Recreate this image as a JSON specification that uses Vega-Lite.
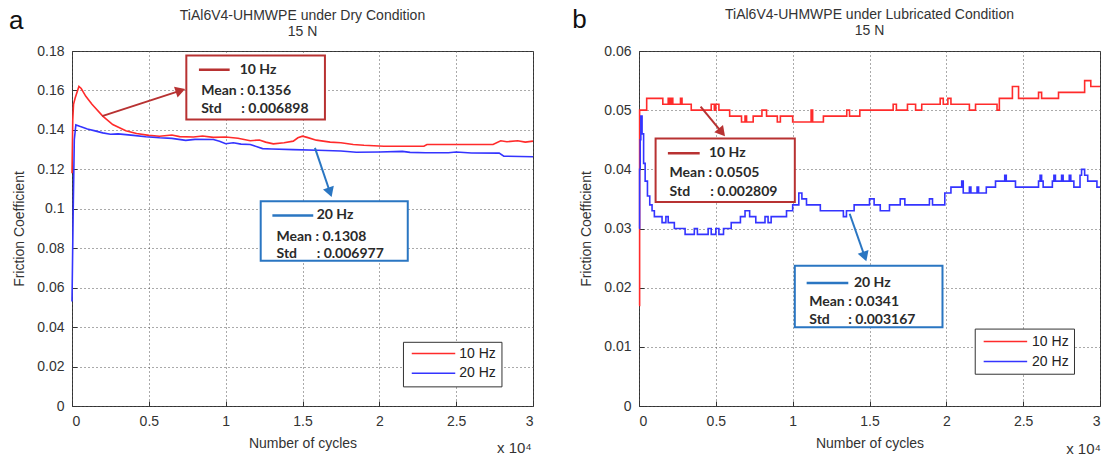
{
  "$schema": "https://vega.github.io/schema/vega-lite/v6.json",
  "background": "white",
  "padding": {"top": 6, "left": 8, "right": 4, "bottom": 6},
  "spacing": 34,
  "config": {
    "font": "Liberation Sans",
    "view": {"stroke": "#333", "strokeWidth": 1},
    "axis": {
      "domain": false, "grid": true, "gridColor": "#555", "gridDash": [1, 3], "gridWidth": 1,
      "tickColor": "#333", "tickSize": -5, "labelPadding": 13,
      "labelFont": "Liberation Sans", "labelFontSize": 14, "labelColor": "#333",
      "titleFont": "Liberation Sans", "titleFontSize": 14, "titleFontWeight": "normal", "titleColor": "#333"
    },
    "title": {
      "font": "Liberation Sans", "fontSize": 14, "fontWeight": "normal", "color": "#333",
      "subtitleFont": "Liberation Sans", "subtitleFontSize": 14, "subtitleColor": "#333",
      "subtitlePadding": 2, "offset": -31, "anchor": "middle"
    }
  },
  "datasets": {
    "dry": [
      {"s": "10 Hz", "x": 0, "y": 0.118}, {"s": "10 Hz", "x": 0.005, "y": 0.145}, {"s": "10 Hz", "x": 0.01, "y": 0.153},
      {"s": "10 Hz", "x": 0.02, "y": 0.156}, {"s": "10 Hz", "x": 0.045, "y": 0.162}, {"s": "10 Hz", "x": 0.06, "y": 0.161},
      {"s": "10 Hz", "x": 0.09, "y": 0.157}, {"s": "10 Hz", "x": 0.13, "y": 0.153}, {"s": "10 Hz", "x": 0.2, "y": 0.147},
      {"s": "10 Hz", "x": 0.265, "y": 0.1427}, {"s": "10 Hz", "x": 0.35, "y": 0.1396}, {"s": "10 Hz", "x": 0.42, "y": 0.1382},
      {"s": "10 Hz", "x": 0.5, "y": 0.1372}, {"s": "10 Hz", "x": 0.57, "y": 0.1368}, {"s": "10 Hz", "x": 0.65, "y": 0.1374},
      {"s": "10 Hz", "x": 0.7, "y": 0.1366}, {"s": "10 Hz", "x": 0.79, "y": 0.1364}, {"s": "10 Hz", "x": 0.85, "y": 0.1369},
      {"s": "10 Hz", "x": 0.92, "y": 0.1362}, {"s": "10 Hz", "x": 1.0, "y": 0.1364}, {"s": "10 Hz", "x": 1.08, "y": 0.1358},
      {"s": "10 Hz", "x": 1.16, "y": 0.1345}, {"s": "10 Hz", "x": 1.22, "y": 0.1349}, {"s": "10 Hz", "x": 1.26, "y": 0.1338},
      {"s": "10 Hz", "x": 1.31, "y": 0.1329}, {"s": "10 Hz", "x": 1.38, "y": 0.1335}, {"s": "10 Hz", "x": 1.44, "y": 0.1343},
      {"s": "10 Hz", "x": 1.47, "y": 0.136}, {"s": "10 Hz", "x": 1.5, "y": 0.1368}, {"s": "10 Hz", "x": 1.53, "y": 0.1362},
      {"s": "10 Hz", "x": 1.59, "y": 0.1348}, {"s": "10 Hz", "x": 1.68, "y": 0.1338}, {"s": "10 Hz", "x": 1.75, "y": 0.1335},
      {"s": "10 Hz", "x": 1.83, "y": 0.1326}, {"s": "10 Hz", "x": 1.9, "y": 0.1322}, {"s": "10 Hz", "x": 2.03, "y": 0.1317},
      {"s": "10 Hz", "x": 2.15, "y": 0.1317}, {"s": "10 Hz", "x": 2.29, "y": 0.1317}, {"s": "10 Hz", "x": 2.31, "y": 0.1326},
      {"s": "10 Hz", "x": 2.5, "y": 0.1326}, {"s": "10 Hz", "x": 2.74, "y": 0.1326}, {"s": "10 Hz", "x": 2.79, "y": 0.1345},
      {"s": "10 Hz", "x": 2.83, "y": 0.134}, {"s": "10 Hz", "x": 2.9, "y": 0.1345}, {"s": "10 Hz", "x": 2.95, "y": 0.1338},
      {"s": "10 Hz", "x": 3.0, "y": 0.1343},
      {"s": "20 Hz", "x": 0, "y": 0.053}, {"s": "20 Hz", "x": 0.008, "y": 0.1}, {"s": "20 Hz", "x": 0.015, "y": 0.135},
      {"s": "20 Hz", "x": 0.025, "y": 0.1425}, {"s": "20 Hz", "x": 0.05, "y": 0.1418}, {"s": "20 Hz", "x": 0.1, "y": 0.1405},
      {"s": "20 Hz", "x": 0.15, "y": 0.1395}, {"s": "20 Hz", "x": 0.2, "y": 0.1385}, {"s": "20 Hz", "x": 0.25, "y": 0.1378},
      {"s": "20 Hz", "x": 0.3, "y": 0.138}, {"s": "20 Hz", "x": 0.35, "y": 0.1376}, {"s": "20 Hz", "x": 0.4, "y": 0.1372},
      {"s": "20 Hz", "x": 0.48, "y": 0.1365}, {"s": "20 Hz", "x": 0.57, "y": 0.136}, {"s": "20 Hz", "x": 0.65, "y": 0.1357},
      {"s": "20 Hz", "x": 0.74, "y": 0.1347}, {"s": "20 Hz", "x": 0.8, "y": 0.1352}, {"s": "20 Hz", "x": 0.92, "y": 0.1351},
      {"s": "20 Hz", "x": 0.96, "y": 0.1342}, {"s": "20 Hz", "x": 1.0, "y": 0.133}, {"s": "20 Hz", "x": 1.05, "y": 0.1335},
      {"s": "20 Hz", "x": 1.1, "y": 0.1328}, {"s": "20 Hz", "x": 1.16, "y": 0.1326}, {"s": "20 Hz", "x": 1.24, "y": 0.1305},
      {"s": "20 Hz", "x": 1.3, "y": 0.1303}, {"s": "20 Hz", "x": 1.44, "y": 0.13}, {"s": "20 Hz", "x": 1.6, "y": 0.1297},
      {"s": "20 Hz", "x": 1.75, "y": 0.1293}, {"s": "20 Hz", "x": 1.85, "y": 0.1287}, {"s": "20 Hz", "x": 2.0, "y": 0.1288},
      {"s": "20 Hz", "x": 2.15, "y": 0.1291}, {"s": "20 Hz", "x": 2.2, "y": 0.1286}, {"s": "20 Hz", "x": 2.3, "y": 0.1284},
      {"s": "20 Hz", "x": 2.45, "y": 0.1284}, {"s": "20 Hz", "x": 2.5, "y": 0.1288}, {"s": "20 Hz", "x": 2.6, "y": 0.1283},
      {"s": "20 Hz", "x": 2.78, "y": 0.1282}, {"s": "20 Hz", "x": 2.81, "y": 0.1267}, {"s": "20 Hz", "x": 3.0, "y": 0.1264}
    ],
    "lub": [
      {"s": "10 Hz", "x": 0, "y": 0.017}, {"s": "10 Hz", "x": 0.004, "y": 0.05}, {"s": "10 Hz", "x": 0.05, "y": 0.052},
      {"s": "10 Hz", "x": 0.155, "y": 0.051}, {"s": "10 Hz", "x": 0.19, "y": 0.052}, {"s": "10 Hz", "x": 0.2, "y": 0.051},
      {"s": "10 Hz", "x": 0.21, "y": 0.052}, {"s": "10 Hz", "x": 0.22, "y": 0.051}, {"s": "10 Hz", "x": 0.27, "y": 0.052},
      {"s": "10 Hz", "x": 0.28, "y": 0.051}, {"s": "10 Hz", "x": 0.34, "y": 0.05}, {"s": "10 Hz", "x": 0.47, "y": 0.051},
      {"s": "10 Hz", "x": 0.49, "y": 0.05}, {"s": "10 Hz", "x": 0.5, "y": 0.051}, {"s": "10 Hz", "x": 0.52, "y": 0.05},
      {"s": "10 Hz", "x": 0.59, "y": 0.049}, {"s": "10 Hz", "x": 0.667, "y": 0.048}, {"s": "10 Hz", "x": 0.69, "y": 0.049},
      {"s": "10 Hz", "x": 0.7, "y": 0.048}, {"s": "10 Hz", "x": 0.743, "y": 0.049}, {"s": "10 Hz", "x": 0.8, "y": 0.05},
      {"s": "10 Hz", "x": 0.83, "y": 0.049}, {"s": "10 Hz", "x": 0.9, "y": 0.048}, {"s": "10 Hz", "x": 0.92, "y": 0.049},
      {"s": "10 Hz", "x": 1.0, "y": 0.048}, {"s": "10 Hz", "x": 1.12, "y": 0.05}, {"s": "10 Hz", "x": 1.13, "y": 0.048},
      {"s": "10 Hz", "x": 1.2, "y": 0.049}, {"s": "10 Hz", "x": 1.352, "y": 0.05}, {"s": "10 Hz", "x": 1.37, "y": 0.049},
      {"s": "10 Hz", "x": 1.437, "y": 0.05}, {"s": "10 Hz", "x": 1.654, "y": 0.051}, {"s": "10 Hz", "x": 1.675, "y": 0.05},
      {"s": "10 Hz", "x": 1.747, "y": 0.051}, {"s": "10 Hz", "x": 1.8, "y": 0.05}, {"s": "10 Hz", "x": 1.84, "y": 0.051},
      {"s": "10 Hz", "x": 1.96, "y": 0.052}, {"s": "10 Hz", "x": 1.98, "y": 0.051}, {"s": "10 Hz", "x": 2.01, "y": 0.052},
      {"s": "10 Hz", "x": 2.03, "y": 0.051}, {"s": "10 Hz", "x": 2.15, "y": 0.05}, {"s": "10 Hz", "x": 2.19, "y": 0.051},
      {"s": "10 Hz", "x": 2.33, "y": 0.05}, {"s": "10 Hz", "x": 2.345, "y": 0.052}, {"s": "10 Hz", "x": 2.43, "y": 0.054},
      {"s": "10 Hz", "x": 2.47, "y": 0.052}, {"s": "10 Hz", "x": 2.6, "y": 0.053}, {"s": "10 Hz", "x": 2.62, "y": 0.052},
      {"s": "10 Hz", "x": 2.73, "y": 0.053}, {"s": "10 Hz", "x": 2.9, "y": 0.055}, {"s": "10 Hz", "x": 2.94, "y": 0.054},
      {"s": "10 Hz", "x": 3.0, "y": 0.054},
      {"s": "20 Hz", "x": 0, "y": 0.03}, {"s": "20 Hz", "x": 0.004, "y": 0.04}, {"s": "20 Hz", "x": 0.008, "y": 0.045},
      {"s": "20 Hz", "x": 0.012, "y": 0.049}, {"s": "20 Hz", "x": 0.02, "y": 0.046}, {"s": "20 Hz", "x": 0.03, "y": 0.041},
      {"s": "20 Hz", "x": 0.04, "y": 0.038}, {"s": "20 Hz", "x": 0.055, "y": 0.0355}, {"s": "20 Hz", "x": 0.07, "y": 0.034},
      {"s": "20 Hz", "x": 0.085, "y": 0.033}, {"s": "20 Hz", "x": 0.1, "y": 0.032}, {"s": "20 Hz", "x": 0.15, "y": 0.031},
      {"s": "20 Hz", "x": 0.175, "y": 0.032}, {"s": "20 Hz", "x": 0.19, "y": 0.031}, {"s": "20 Hz", "x": 0.23, "y": 0.03},
      {"s": "20 Hz", "x": 0.3, "y": 0.029}, {"s": "20 Hz", "x": 0.36, "y": 0.03}, {"s": "20 Hz", "x": 0.38, "y": 0.029},
      {"s": "20 Hz", "x": 0.45, "y": 0.03}, {"s": "20 Hz", "x": 0.47, "y": 0.029}, {"s": "20 Hz", "x": 0.5, "y": 0.03},
      {"s": "20 Hz", "x": 0.52, "y": 0.029}, {"s": "20 Hz", "x": 0.55, "y": 0.03}, {"s": "20 Hz", "x": 0.6, "y": 0.031},
      {"s": "20 Hz", "x": 0.66, "y": 0.032}, {"s": "20 Hz", "x": 0.69, "y": 0.033}, {"s": "20 Hz", "x": 0.72, "y": 0.032},
      {"s": "20 Hz", "x": 0.76, "y": 0.031}, {"s": "20 Hz", "x": 0.82, "y": 0.032}, {"s": "20 Hz", "x": 0.84, "y": 0.031},
      {"s": "20 Hz", "x": 0.86, "y": 0.032}, {"s": "20 Hz", "x": 0.96, "y": 0.033}, {"s": "20 Hz", "x": 1.0, "y": 0.034},
      {"s": "20 Hz", "x": 1.04, "y": 0.036}, {"s": "20 Hz", "x": 1.06, "y": 0.035}, {"s": "20 Hz", "x": 1.09, "y": 0.034},
      {"s": "20 Hz", "x": 1.18, "y": 0.033}, {"s": "20 Hz", "x": 1.33, "y": 0.032}, {"s": "20 Hz", "x": 1.35, "y": 0.033},
      {"s": "20 Hz", "x": 1.4, "y": 0.034}, {"s": "20 Hz", "x": 1.5, "y": 0.035}, {"s": "20 Hz", "x": 1.53, "y": 0.034},
      {"s": "20 Hz", "x": 1.57, "y": 0.033}, {"s": "20 Hz", "x": 1.63, "y": 0.034}, {"s": "20 Hz", "x": 1.7, "y": 0.035},
      {"s": "20 Hz", "x": 1.73, "y": 0.034}, {"s": "20 Hz", "x": 1.89, "y": 0.035}, {"s": "20 Hz", "x": 1.91, "y": 0.034},
      {"s": "20 Hz", "x": 1.99, "y": 0.036}, {"s": "20 Hz", "x": 2.03, "y": 0.037}, {"s": "20 Hz", "x": 2.1, "y": 0.038},
      {"s": "20 Hz", "x": 2.11, "y": 0.036}, {"s": "20 Hz", "x": 2.15, "y": 0.037}, {"s": "20 Hz", "x": 2.16, "y": 0.036},
      {"s": "20 Hz", "x": 2.2, "y": 0.037}, {"s": "20 Hz", "x": 2.21, "y": 0.036}, {"s": "20 Hz", "x": 2.26, "y": 0.037},
      {"s": "20 Hz", "x": 2.32, "y": 0.038}, {"s": "20 Hz", "x": 2.38, "y": 0.039}, {"s": "20 Hz", "x": 2.39, "y": 0.038},
      {"s": "20 Hz", "x": 2.45, "y": 0.037}, {"s": "20 Hz", "x": 2.6, "y": 0.038}, {"s": "20 Hz", "x": 2.61, "y": 0.039},
      {"s": "20 Hz", "x": 2.62, "y": 0.038}, {"s": "20 Hz", "x": 2.63, "y": 0.037}, {"s": "20 Hz", "x": 2.69, "y": 0.038},
      {"s": "20 Hz", "x": 2.7, "y": 0.039}, {"s": "20 Hz", "x": 2.71, "y": 0.038}, {"s": "20 Hz", "x": 2.75, "y": 0.039},
      {"s": "20 Hz", "x": 2.76, "y": 0.038}, {"s": "20 Hz", "x": 2.8, "y": 0.039}, {"s": "20 Hz", "x": 2.81, "y": 0.038},
      {"s": "20 Hz", "x": 2.83, "y": 0.037}, {"s": "20 Hz", "x": 2.87, "y": 0.039}, {"s": "20 Hz", "x": 2.88, "y": 0.04},
      {"s": "20 Hz", "x": 2.9, "y": 0.039}, {"s": "20 Hz", "x": 2.92, "y": 0.038}, {"s": "20 Hz", "x": 2.98, "y": 0.037},
      {"s": "20 Hz", "x": 3.0, "y": 0.037}
    ],
    "dryBox": [
      {"s": "10 Hz", "x": 0.744, "x2": 1.646, "y": 0.1777, "y2": 0.1453},
      {"s": "20 Hz", "x": 1.228, "x2": 2.185, "y": 0.1038, "y2": 0.0737}
    ],
    "drySample": [
      {"s": "10 Hz", "x": 0.826, "x2": 1.026, "y": 0.1705},
      {"s": "20 Hz", "x": 1.304, "x2": 1.57, "y": 0.0966}
    ],
    "dryText": [
      {"x": 1.091, "y": 0.1705, "t": "10 Hz"},
      {"x": 0.841, "y": 0.1596, "t": "Mean : 0.1356"},
      {"x": 0.841, "y": 0.1507, "t": "Std"},
      {"x": 1.102, "y": 0.1507, "t": ": 0.006898"},
      {"x": 1.592, "y": 0.0966, "t": "20 Hz"},
      {"x": 1.331, "y": 0.0856, "t": "Mean : 0.1308"},
      {"x": 1.331, "y": 0.0773, "t": "Std"},
      {"x": 1.592, "y": 0.0773, "t": ": 0.006977"}
    ],
    "dryArrow": [
      {"s": "10 Hz", "x": 0.196, "y": 0.147, "x2": 0.706, "y2": 0.1599},
      {"s": "20 Hz", "x": 1.581, "y": 0.1309, "x2": 1.679, "y2": 0.1084}
    ],
    "dryHead": [
      {"s": "10 Hz", "x": 0.706, "y": 0.1599},
      {"s": "20 Hz", "x": 1.679, "y": 0.1084}
    ],
    "dryLegBox": [{"x": 2.157, "x2": 2.798, "y": 0.0323, "y2": 0.0097}],
    "dryLegLine": [
      {"s": "10 Hz", "x": 2.211, "x2": 2.494, "y": 0.0266},
      {"s": "20 Hz", "x": 2.211, "x2": 2.494, "y": 0.0166}
    ],
    "dryLegText": [
      {"x": 2.52, "y": 0.0266, "t": "10 Hz"},
      {"x": 2.52, "y": 0.0166, "t": "20 Hz"}
    ],
    "dryLetter": [{"x": -0.363, "y": 0.195, "t": "a"}],
    "dryExp": [{"x": 2.879, "y": -0.0212, "t": "x 10⁴"}],
    "lubBox": [
      {"s": "10 Hz", "x": 0.108, "x2": 1.014, "y": 0.0452, "y2": 0.0345},
      {"s": "20 Hz", "x": 1.014, "x2": 1.975, "y": 0.0237, "y2": 0.0133}
    ],
    "lubSample": [
      {"s": "10 Hz", "x": 0.188, "x2": 0.395, "y": 0.0427},
      {"s": "20 Hz", "x": 1.091, "x2": 1.362, "y": 0.0208}
    ],
    "lubText": [
      {"x": 0.455, "y": 0.0427, "t": "10 Hz"},
      {"x": 0.199, "y": 0.0393, "t": "Mean : 0.0505"},
      {"x": 0.199, "y": 0.0362, "t": "Std"},
      {"x": 0.464, "y": 0.0362, "t": ": 0.002809"},
      {"x": 1.399, "y": 0.0208, "t": "20 Hz"},
      {"x": 1.108, "y": 0.0175, "t": "Mean : 0.0341"},
      {"x": 1.108, "y": 0.01458, "t": "Std"},
      {"x": 1.362, "y": 0.01458, "t": ": 0.003167"}
    ],
    "lubArrow": [
      {"s": "10 Hz", "x": 0.401, "y": 0.0506, "x2": 0.539, "y2": 0.04625},
      {"s": "20 Hz", "x": 1.371, "y": 0.0325, "x2": 1.469, "y2": 0.02525}
    ],
    "lubHead": [
      {"s": "10 Hz", "x": 0.539, "y": 0.04625},
      {"s": "20 Hz", "x": 1.469, "y": 0.02525}
    ],
    "lubLegBox": [{"x": 2.188, "x2": 2.834, "y": 0.013, "y2": 0.00537}],
    "lubLegLine": [
      {"s": "10 Hz", "x": 2.243, "x2": 2.526, "y": 0.0109},
      {"s": "20 Hz", "x": 2.243, "x2": 2.526, "y": 0.00751}
    ],
    "lubLegText": [
      {"x": 2.558, "y": 0.0109, "t": "10 Hz"},
      {"x": 2.558, "y": 0.00751, "t": "20 Hz"}
    ],
    "lubLetter": [{"x": -0.388, "y": 0.0652, "t": "b"}],
    "lubExp": [{"x": 2.893, "y": -0.0073, "t": "x 10⁴"}]
  },
  "hconcat": [
    {
      "width": 461,
      "height": 355,
      "title": {"text": "TiAl6V4-UHMWPE under Dry Condition", "subtitle": "15 N"},
      "encoding": {
        "x": {"field": "x", "type": "quantitative", "scale": {"domain": [0, 3], "nice": false, "zero": false},
              "axis": {"values": [0, 0.5, 1, 1.5, 2, 2.5, 3], "format": "~g", "title": "Number of cycles", "titlePadding": 8}},
        "y": {"field": "y", "type": "quantitative", "scale": {"domain": [0, 0.18], "nice": false},
              "axis": {"values": [0, 0.02, 0.04, 0.06, 0.08, 0.1, 0.12, 0.14, 0.16, 0.18], "format": "~g", "title": "Friction Coefficient", "titlePadding": 10}}
      },
      "layer": [
        {"data": {"name": "dry"}, "mark": {"type": "line", "strokeWidth": 1.6},
         "encoding": {"color": {"field": "s", "type": "nominal", "scale": {"domain": ["10 Hz", "20 Hz"], "range": ["#ff2b2b", "#3434ff"]}, "legend": null}}},
        {"data": {"name": "dryBox"}, "mark": {"type": "rect", "fill": "white", "strokeWidth": 2},
         "encoding": {"x2": {"field": "x2"}, "y2": {"field": "y2"},
                      "stroke": {"field": "s", "type": "nominal", "scale": {"domain": ["10 Hz", "20 Hz"], "range": ["#b83232", "#2a76c2"]}, "legend": null}}},
        {"data": {"name": "drySample"}, "mark": {"type": "rule", "strokeWidth": 2.5},
         "encoding": {"x2": {"field": "x2"}, "stroke": {"field": "s", "type": "nominal", "legend": null}}},
        {"data": {"name": "dryText"}, "mark": {"type": "text", "align": "left", "baseline": "middle", "font": "Lato", "fontWeight": "bold", "fontSize": 14, "color": "#2a2a2a"},
         "encoding": {"text": {"field": "t"}}},
        {"data": {"name": "dryArrow"}, "mark": {"type": "rule", "strokeWidth": 2},
         "encoding": {"x2": {"field": "x2"}, "y2": {"field": "y2"}, "stroke": {"field": "s", "type": "nominal", "legend": null}}},
        {"data": {"name": "dryHead"}, "transform": [{"filter": "datum.s === '10 Hz'"}],
         "mark": {"type": "point", "shape": "triangle-right", "filled": true, "size": 130, "angle": 342, "opacity": 1, "color": "#b83232"}},
        {"data": {"name": "dryHead"}, "transform": [{"filter": "datum.s === '20 Hz'"}],
         "mark": {"type": "point", "shape": "triangle-right", "filled": true, "size": 130, "angle": 71, "opacity": 1, "color": "#2a76c2"}},
        {"data": {"name": "dryLegBox"}, "mark": {"type": "rect", "fill": "white", "stroke": "#333", "strokeWidth": 1},
         "encoding": {"x2": {"field": "x2"}, "y2": {"field": "y2"}}},
        {"data": {"name": "dryLegLine"}, "mark": {"type": "rule", "strokeWidth": 1.5},
         "encoding": {"x2": {"field": "x2"}, "color": {"field": "s", "type": "nominal", "legend": null}}},
        {"data": {"name": "dryLegText"}, "mark": {"type": "text", "align": "left", "baseline": "middle", "fontSize": 14, "color": "#222"},
         "encoding": {"text": {"field": "t"}}},
        {"data": {"name": "dryLetter"}, "mark": {"type": "text", "align": "center", "baseline": "middle", "fontSize": 26, "color": "#111"},
         "encoding": {"text": {"field": "t"}}},
        {"data": {"name": "dryExp"}, "mark": {"type": "text", "align": "center", "baseline": "middle", "fontSize": 15, "color": "#333"},
         "encoding": {"text": {"field": "t"}}}
      ]
    },
    {
      "width": 461,
      "height": 355,
      "title": {"text": "TiAl6V4-UHMWPE under Lubricated Condition", "subtitle": "15 N"},
      "encoding": {
        "x": {"field": "x", "type": "quantitative", "scale": {"domain": [0, 3], "nice": false, "zero": false},
              "axis": {"values": [0, 0.5, 1, 1.5, 2, 2.5, 3], "format": "~g", "title": "Number of cycles", "titlePadding": 8}},
        "y": {"field": "y", "type": "quantitative", "scale": {"domain": [0, 0.06], "nice": false},
              "axis": {"values": [0, 0.01, 0.02, 0.03, 0.04, 0.05, 0.06], "format": "~g", "title": "Friction Coefficient", "titlePadding": 10}}
      },
      "layer": [
        {"data": {"name": "lub"}, "mark": {"type": "line", "strokeWidth": 1.6, "interpolate": "step-after"},
         "encoding": {"color": {"field": "s", "type": "nominal", "scale": {"domain": ["10 Hz", "20 Hz"], "range": ["#ff2b2b", "#3434ff"]}, "legend": null}}},
        {"data": {"name": "lubBox"}, "mark": {"type": "rect", "fill": "white", "strokeWidth": 2},
         "encoding": {"x2": {"field": "x2"}, "y2": {"field": "y2"},
                      "stroke": {"field": "s", "type": "nominal", "scale": {"domain": ["10 Hz", "20 Hz"], "range": ["#b83232", "#2a76c2"]}, "legend": null}}},
        {"data": {"name": "lubSample"}, "mark": {"type": "rule", "strokeWidth": 2.5},
         "encoding": {"x2": {"field": "x2"}, "stroke": {"field": "s", "type": "nominal", "legend": null}}},
        {"data": {"name": "lubText"}, "mark": {"type": "text", "align": "left", "baseline": "middle", "font": "Lato", "fontWeight": "bold", "fontSize": 14, "color": "#2a2a2a"},
         "encoding": {"text": {"field": "t"}}},
        {"data": {"name": "lubArrow"}, "mark": {"type": "rule", "strokeWidth": 2},
         "encoding": {"x2": {"field": "x2"}, "y2": {"field": "y2"}, "stroke": {"field": "s", "type": "nominal", "legend": null}}},
        {"data": {"name": "lubHead"}, "transform": [{"filter": "datum.s === '10 Hz'"}],
         "mark": {"type": "point", "shape": "triangle-right", "filled": true, "size": 130, "angle": 50, "opacity": 1, "color": "#b83232"}},
        {"data": {"name": "lubHead"}, "transform": [{"filter": "datum.s === '20 Hz'"}],
         "mark": {"type": "point", "shape": "triangle-right", "filled": true, "size": 130, "angle": 71, "opacity": 1, "color": "#2a76c2"}},
        {"data": {"name": "lubLegBox"}, "mark": {"type": "rect", "fill": "white", "stroke": "#333", "strokeWidth": 1},
         "encoding": {"x2": {"field": "x2"}, "y2": {"field": "y2"}}},
        {"data": {"name": "lubLegLine"}, "mark": {"type": "rule", "strokeWidth": 1.5},
         "encoding": {"x2": {"field": "x2"}, "color": {"field": "s", "type": "nominal", "legend": null}}},
        {"data": {"name": "lubLegText"}, "mark": {"type": "text", "align": "left", "baseline": "middle", "fontSize": 14, "color": "#222"},
         "encoding": {"text": {"field": "t"}}},
        {"data": {"name": "lubLetter"}, "mark": {"type": "text", "align": "center", "baseline": "middle", "fontSize": 26, "color": "#111"},
         "encoding": {"text": {"field": "t"}}},
        {"data": {"name": "lubExp"}, "mark": {"type": "text", "align": "center", "baseline": "middle", "fontSize": 15, "color": "#333"},
         "encoding": {"text": {"field": "t"}}}
      ]
    }
  ]
}
